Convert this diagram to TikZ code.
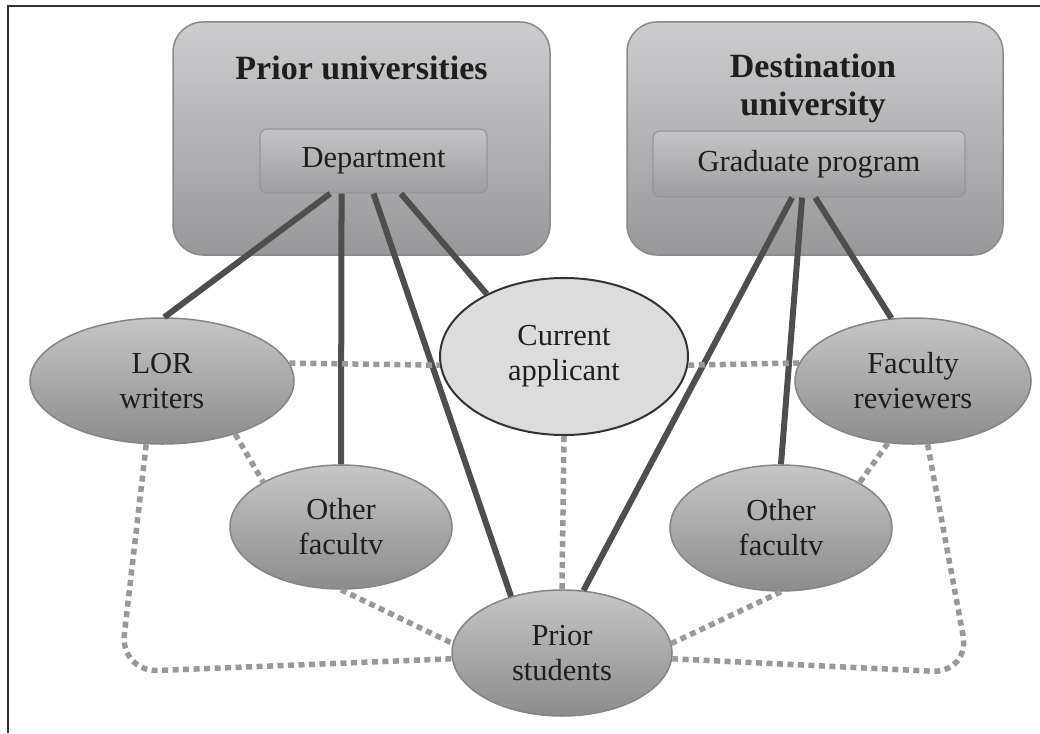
\documentclass[tikz,border=0pt]{standalone}
\usepackage{fontspec}
\setmainfont{Liberation Serif}
\usetikzlibrary{shapes.geometric,calc}

\definecolor{ink}{HTML}{1E1E1E}
\definecolor{framecol}{HTML}{333333}
\definecolor{boxtop}{HTML}{CDCDCF}
\definecolor{boxbot}{HTML}{98989A}
\definecolor{boxedge}{HTML}{8A8A8C}
\definecolor{unittop}{HTML}{C4C4C6}
\definecolor{unitbot}{HTML}{9E9EA0}
\definecolor{unitedge}{HTML}{959597}
\definecolor{roletop}{HTML}{C6C6C6}
\definecolor{rolebot}{HTML}{8C8C8C}
\definecolor{roleedge}{HTML}{858585}
\definecolor{applfill}{HTML}{DCDCDC}
\definecolor{tiecol}{HTML}{4E4E4E}
\definecolor{linkcol}{HTML}{999999}

\newcommand{\bodyfont}{\fontsize{30.5}{35}\selectfont}
\newcommand{\titlefont}{\fontsize{34}{37}\selectfont\bfseries}

\tikzset{
  unibox/.style={draw=boxedge, line width=1.5pt, rounded corners=30pt,
    top color=boxtop, bottom color=boxbot, inner sep=0pt},
  unitbox/.style={draw=unitedge, line width=1.2pt, rounded corners=7pt,
    top color=unittop, bottom color=unitbot, inner sep=0pt,
    font=\bodyfont, text=ink},
  role/.style={ellipse, draw=roleedge, line width=1.5pt,
    top color=roletop, bottom color=rolebot, inner sep=0pt,
    align=center, font=\bodyfont, text=ink},
  applicant/.style={ellipse, draw=framecol, line width=2pt, fill=applfill,
    inner sep=0pt, align=center, font=\bodyfont, text=ink},
  tie/.style={draw=tiecol, line width=6pt},
  link/.style={draw=linkcol, line width=5.5pt, dash pattern=on 6pt off 4.5pt},
  title/.style={font=\titlefont, text=ink, align=center, inner sep=0pt},
}

\begin{document}
\begin{tikzpicture}[x=1pt,y=-1pt]
  \useasboundingbox (0,0) rectangle (1040,733);
  \fill[white] (0,0) rectangle (1040,733);

  % institutions
  \node[unibox, minimum width=377pt, minimum height=233pt] (pu) at (361.5,138.5) {};
  \node[title, anchor=base] (putitle) at (361.5,80) {Prior universities};
  \node[unitbox, minimum width=227pt, minimum height=64pt] (dept) at (373.5,161) {Department};

  \node[unibox, minimum width=376pt, minimum height=233pt] (du) at (815,138.5) {};
  \node[title, anchor=base] (dutitle) at (813,78) {Destination};
  \node[title, anchor=base] (dutitle2) at (813,115) {university};
  \node[unitbox, minimum width=312pt, minimum height=66pt] (grad) at (809,164) {Graduate program};

  % people
  \node[role, minimum width=264pt, minimum height=126pt] (lor) at (162,381) {LOR\\writers};
  \node[role, minimum width=222pt, minimum height=124pt] (ofl) at (341,527) {Other\\facultv};
  \node[role, minimum width=220pt, minimum height=126pt] (ps) at (562,653) {Prior\\students};
  \node[applicant, minimum width=248pt, minimum height=157pt] (ca) at (564,356.5) {Current\\applicant};
  \node[role, minimum width=236pt, minimum height=126pt] (fr) at (913,381) {Faculty\\reviewers};
  \node[role, minimum width=222pt, minimum height=126pt] (ofr) at (781,528) {Other\\facultv};

  % formal ties
  \draw[tie] ($(dept.south west)!0.31!(dept.south east)$) -- (lor.88);
  \draw[tie] ($(dept.south west)!0.36!(dept.south east)$) -- (ofl.north);
  \draw[tie] ($(dept.south west)!0.50!(dept.south east)$) -- (ps.132);
  \draw[tie] ($(dept.south west)!0.62!(dept.south east)$) -- (ca.141);
  \draw[tie] ($(grad.south west)!0.446!(grad.south east)$) -- (ps.71);
  \draw[tie] ($(grad.south west)!0.478!(grad.south east)$) -- (ofr.north);
  \draw[tie] ($(grad.south west)!0.52!(grad.south east)$) -- (fr.109);

  % informal links
  \draw[link] (lor.8) -- (ca.184);
  \draw[link] (ca.356) -- (fr.171);
  \draw[link] (lor.324) -- (ofl.150);
  \draw[link] (ofl.south) -- (ps.175);
  \draw[link] (ca.south) -- (ps.north);
  \draw[link] (fr.248) -- (ofr.30);
  \draw[link] (ofr.south) -- (ps.5);
  \draw[link, rounded corners=38pt] (lor.256) -- (120,672) -- (ps.183);
  \draw[link, rounded corners=38pt] (fr.283) -- (970,673) -- (ps.357);

  % frame
  \draw[framecol, line width=2pt] (7.5,733) -- (7.5,6) -- (1040,6);
\end{tikzpicture}
\end{document}
